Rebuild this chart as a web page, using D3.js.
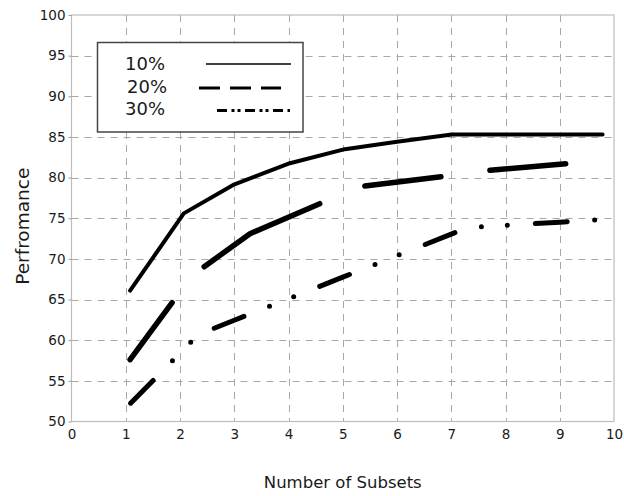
<!DOCTYPE html>
<html>
<head>
<meta charset="utf-8">
<script src="https://cdn.jsdelivr.net/npm/d3@7"></script>
<style>
  html, body { margin: 0; padding: 0; background: #fff; }
  svg { display: block; }
  text { font-family: "DejaVu Sans", Verdana, sans-serif; fill: #1a1a1a; }
</style>
</head>
<body>
<svg id="chart" width="624" height="496"></svg>
<script>
// ---------------- data ----------------
const seriesNames = ["10%", "20%", "30%"];
const xTickValues = [0, 1, 2, 3, 4, 5, 6, 7, 8, 9, 10];
const yTickValues = [50, 55, 60, 65, 70, 75, 80, 85, 90, 95, 100];

const s10x = [1.08, 2.07, 2.98, 3.99, 5.04, 6.0, 7.01, 8.0, 9.0, 9.79];
const s10y = [66.1, 75.6, 79.1, 81.7, 83.5, 84.4, 85.3, 85.3, 85.3, 85.3];

const s20x = [1.08, 2.23, 3.29, 4.58, 5.34, 6.81, 7.72, 9.11];
const s20y = [57.6, 68.0, 73.1, 76.8, 78.9, 80.1, 80.9, 81.7];

const s30x = [1.09, 2.34, 3.0, 4.0, 5.0, 6.0, 7.0, 7.3, 8.0, 9.0, 9.74];
const s30y = [52.25, 60.7, 62.45, 65.1, 67.75, 70.4, 73.05, 73.87, 74.14, 74.52, 74.81];

const xLabel = "Number of Subsets";
const yLabel = "Perfromance";

// ---------------- layout ----------------
const svg = d3.select("#chart");
const L = 71.5, R = 614, T = 15, B = 421.5;

const x = d3.scaleLinear().domain([0, 10]).range([L, R]);
const y = d3.scaleLinear().domain([50, 100]).range([B, T]);

// grid
const grid = svg.append("g").attr("stroke", "#a8a8a8").attr("stroke-width", 1)
  .attr("stroke-dasharray", "7 6").attr("fill", "none");
grid.selectAll("line.v").data(xTickValues.filter(v => v > 0 && v < 10)).join("line")
  .attr("x1", d => Math.round(x(d)) + 0.5).attr("x2", d => Math.round(x(d)) + 0.5)
  .attr("y1", T).attr("y2", B);
grid.selectAll("line.h").data(yTickValues.filter(v => v > 50 && v < 100)).join("line")
  .attr("y1", d => Math.round(y(d)) + 0.5).attr("y2", d => Math.round(y(d)) + 0.5)
  .attr("x1", L).attr("x2", R);

// frame
svg.append("rect").attr("x", L).attr("y", T).attr("width", R - L).attr("height", B - T)
  .attr("fill", "none").attr("stroke", "#bcbcbc").attr("stroke-width", 1.2);

// axes
const yAxis = d3.axisLeft(y).tickValues(yTickValues).tickSize(3).tickPadding(3);
const gy = svg.append("g").attr("transform", `translate(${L},0)`).call(yAxis);
gy.select(".domain").remove();
gy.selectAll(".tick line").attr("stroke", "#9a9a9a");
gy.selectAll(".tick text").attr("font-size", 13.5).attr("fill", "#1a1a1a")
  .attr("font-family", "DejaVu Sans, sans-serif");

const xAxis = d3.axisBottom(x).tickValues(xTickValues).tickSize(0).tickPadding(8);
const gx = svg.append("g").attr("transform", `translate(0,${B})`).call(xAxis);
gx.select(".domain").remove();
gx.selectAll(".tick text").attr("font-size", 13.5).attr("fill", "#1a1a1a")
  .attr("font-family", "DejaVu Sans, sans-serif");

// axis titles
svg.append("text").attr("x", (L + R) / 2).attr("y", 488).attr("text-anchor", "middle")
  .attr("font-size", 16.5).text(xLabel);
svg.append("text").attr("transform", `translate(29,${(T + B) / 2 + 8}) rotate(-90)`)
  .attr("text-anchor", "middle").attr("font-size", 18.5).text(yLabel);

// series lines
const line = d3.line().x(d => x(d[0])).y(d => y(d[1]));
const zip = (a, b) => a.map((v, i) => [v, b[i]]);
const seriesData = [
  { name: seriesNames[0], pts: zip(s10x, s10y), width: 4, dash: null },
  { name: seriesNames[1], pts: zip(s20x, s20y), width: 5.5, dash: "70.8 48.7 132.4 48.6 76.6 49.4 76.3 50" },
  { name: seriesNames[2], pts: zip(s30x, s30y), width: 5, dash: "32 27.5 0 26 0 28" }
];
svg.append("g").selectAll("path").data(seriesData).join("path")
  .attr("d", d => line(d.pts))
  .attr("fill", "none").attr("stroke", "#000")
  .attr("stroke-width", d => d.width)
  .attr("stroke-linecap", "round").attr("stroke-linejoin", "round")
  .attr("stroke-dasharray", d => d.dash);

// legend
const lg = svg.append("g");
lg.append("rect").attr("x", 97.5).attr("y", 42.5).attr("width", 205.5).attr("height", 89.5)
  .attr("fill", "#fff").attr("stroke", "#444").attr("stroke-width", 1.5);
const legendItems = [
  { name: seriesNames[0], tx: 125, ty: 70, x1: 206, x2: 291, ly: 64, w: 1.5, dash: null },
  { name: seriesNames[1], tx: 127, ty: 93, x1: 199, x2: 281, ly: 88, w: 3, dash: "21 10" },
  { name: seriesNames[2], tx: 125, ty: 115, x1: 217, x2: 290, ly: 110.5, w: 3, dash: "10 4.5 3 3 3 4.5" }
];
lg.selectAll("text").data(legendItems).join("text")
  .attr("x", d => d.tx).attr("y", d => d.ty).attr("font-size", 18).text(d => d.name);
lg.selectAll("line").data(legendItems).join("line")
  .attr("x1", d => d.x1).attr("x2", d => d.x2).attr("y1", d => d.ly).attr("y2", d => d.ly)
  .attr("stroke", "#000").attr("stroke-width", d => d.w)
  .attr("stroke-dasharray", d => d.dash);
</script>
</body>
</html>
